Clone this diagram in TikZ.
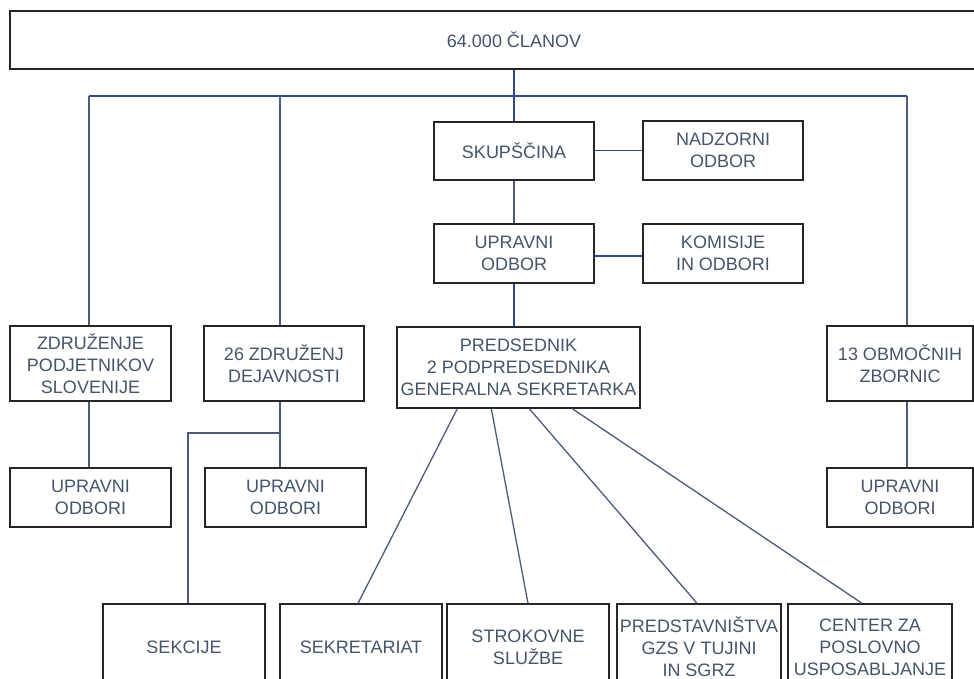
\documentclass[tikz,border=0pt]{standalone}
\usepackage{fontspec}
\setmainfont{Liberation Sans}
\usetikzlibrary{
positioning,
calc
}
\definecolor{GZStext}{HTML}{44546A}
\definecolor{GZSblue}{HTML}{2A4C8C}
\definecolor{GZSslate}{HTML}{4B5B7A}

\tikzset{
    orgbox/.style={
        draw=black!85,
        line width=1.4bp,
        align=center,
        inner sep=0pt,
        text=GZStext,
        font=\fontsize{18bp}{22bp}\selectfont
    },
    lowbox/.style={
        orgbox,
        minimum width=162bp,
        minimum height=86bp
    },
    bluelink/.style={
        draw=GZSblue,
        line width=1.3bp
    },
    slatelink/.style={
        draw=GZSslate,
        line width=1.3bp
    }
}

\begin{document}
\begin{tikzpicture}[
    x=1bp,
    y=-1bp
]

% Frame
\useasboundingbox (0,0) rectangle (974,679);
\clip (0,0) rectangle (974,679);

% Members
\node[orgbox, minimum width=1008bp, minimum height=58bp]
(clanov) at (514,40) {64.000 ČLANOV};

% Central bodies
\node[orgbox, minimum width=160bp, minimum height=58bp]
(skup) at (514,151) {SKUPŠČINA};

\node[orgbox, minimum width=160bp, minimum height=59bp]
(nadz) at (723,150.5) {NADZORNI\\ODBOR};

\node[orgbox, minimum width=160bp, minimum height=59bp]
(upr) at (514,253.5) {UPRAVNI\\ODBOR};

\node[orgbox, minimum width=160bp, minimum height=59bp]
(kom) at (723,253.5) {KOMISIJE\\IN ODBORI};

\node[orgbox, minimum width=243bp, minimum height=81bp]
(pred) at (518.5,367.5) {PREDSEDNIK\\2 PODPREDSEDNIKA\\GENERALNA SEKRETARKA};

% Associations and chambers
\node[orgbox, minimum width=161bp, minimum height=75bp]
(zps) at (90.5,363.5) {ZDRUŽENJE\\PODJETNIKOV\\SLOVENIJE};

\node[orgbox, minimum width=160bp, minimum height=75bp]
(zd26) at (284,363.5) {26 ZDRUŽENJ\\DEJAVNOSTI};

\node[orgbox, minimum width=146bp, minimum height=75bp]
(obm) at (900,363.5) {13 OBMOČNIH\\ZBORNIC};

% Boards
\node[orgbox, minimum width=161bp, minimum height=59bp]
(uoa) at (90.5,497.5) {UPRAVNI\\ODBORI};

\node[orgbox, minimum width=161bp, minimum height=59bp]
(uob) at (285.5,497.5) {UPRAVNI\\ODBORI};

\node[orgbox, minimum width=146bp, minimum height=59bp]
(uoc) at (900,497.5) {UPRAVNI\\ODBORI};

% Bottom row
\node[lowbox] (sekc) at (184,647) {SEKCIJE};
\node[lowbox] (sekr) at (361,647) {SEKRETARIAT};
\node[lowbox] (strok) at (528,647) {STROKOVNE\\SLUŽBE};
\node[lowbox, minimum width=164bp] (predst) at (699,647) {PREDSTAVNIŠTVA\\GZS V TUJINI\\IN SGRZ};
\node[lowbox, minimum width=164bp] (cpu) at (870,647) {CENTER ZA\\POSLOVNO\\USPOSABLJANJE};

% Junctions
\coordinate (busL) at (89,96);
\coordinate (busM) at (280,96);
\coordinate (busR) at (907,96);
\coordinate (jd) at (280,433);
\coordinate (js) at (188,433);

% Main bus
\draw[bluelink] (clanov) -- (skup);
\draw[bluelink] (busL) -- (busR);
\draw[slatelink] (busL) -- (busL |- zps.north);
\draw[slatelink] (busM) -- (busM |- zd26.north);
\draw[slatelink] (busR) -- (busR |- obm.north);

% Central chain
\draw[bluelink] (skup.east |- nadz) -- (nadz.west);
\draw[slatelink] (skup) -- (upr);
\draw[bluelink] (upr.east |- 0,256) -- (kom.west |- 0,256);
\draw[bluelink] (upr.south) -- (upr.south |- pred.north);

% Side branches
\draw[slatelink] (busL |- zps.south) -- (busL |- uoa.north);
\draw[slatelink] (busM |- zd26.south) -- (busM |- uob.north);
\draw[slatelink] (jd) -- (js) -- (js |- sekc.north);
\draw[slatelink] (busR |- obm.south) -- (busR |- uoc.north);

% Fan-out from the presidency
\draw[slatelink] ($(pred.south west)+(61,0)$) -- ($(sekr.north)+(-3,0)$);
\draw[slatelink] ($(pred.south west)+(95,0)$) -- (strok.north);
\draw[slatelink] ($(pred.south west)+(133,0)$) -- ($(predst.north)+(-2,0)$);
\draw[slatelink] ($(pred.south west)+(176,0)$) -- ($(cpu.north)+(-8,0)$);

\end{tikzpicture}
\end{document}
